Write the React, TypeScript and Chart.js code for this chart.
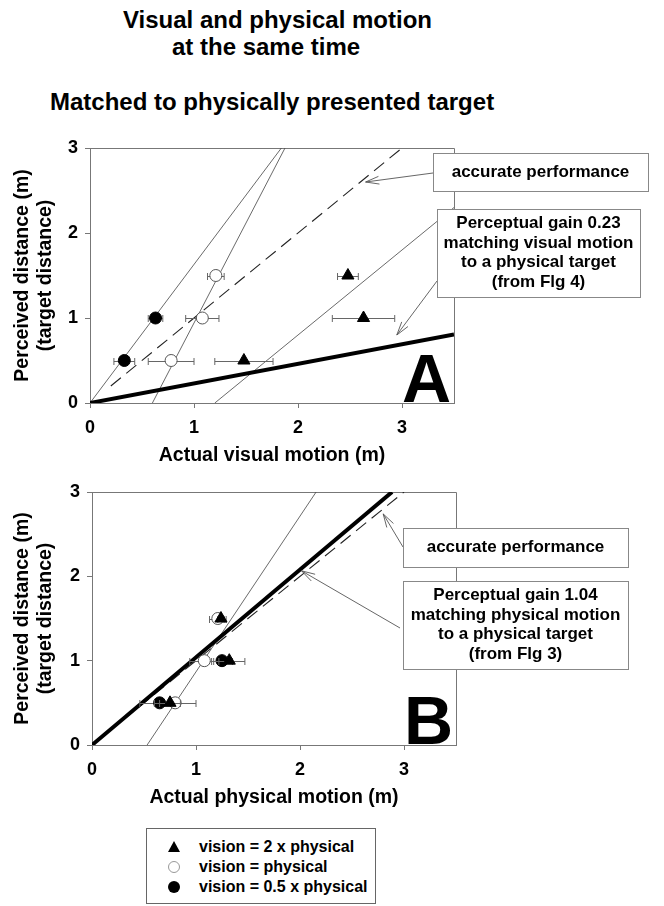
import React, { useEffect, useRef } from "react";
import { Chart, registerables } from "chart.js";
Chart.register(...registerables);

const FONT = "'Liberation Sans', Arial, Helvetica, sans-serif";

// ---------- shared axis ticks ----------
const X_TICK_VALUES = [0, 1, 2, 3];
const Y_TICK_VALUES = [0, 1, 2, 3];
const X_MAX = 3.5;
const Y_MAX = 3;

// ---------- Panel A : matched to visual motion ----------
const A_TRI_X = [1.48, 2.63, 2.48];
const A_TRI_Y = [0.5, 1.0, 1.5];
const A_TRI_ERR = [0.28, 0.3, 0.1];
const A_OPEN_X = [0.78, 1.08, 1.21];
const A_OPEN_Y = [0.5, 1.0, 1.5];
const A_OPEN_ERR = [0.22, 0.16, 0.08];
const A_FILL_X = [0.33, 0.63];
const A_FILL_Y = [0.5, 1.0];
const A_FILL_ERR = [0.1, 0.07];
const A_FIT_FILL_X = [0, 1.84];
const A_FIT_FILL_Y = [0, 3];
const A_FIT_OPEN_X = [0.6, 1.875];
const A_FIT_OPEN_Y = [0, 3];
const A_FIT_TRI_X = [1.2, 3.5];
const A_FIT_TRI_Y = [0, 2.3];
const A_ACC_X = [0.2, 3];
const A_ACC_Y = [0.2, 3];
const A_GAIN_X = [0, 3.5];
const A_GAIN_Y = [0, 0.805];

// ---------- Panel B : matched to physical motion ----------
const B_TRI_X = [0.75, 1.32, 1.24];
const B_TRI_Y = [0.5, 1.0, 1.5];
const B_TRI_ERR = [0.1, 0.15, 0.03];
const B_OPEN_X = [0.8, 1.08, 1.21];
const B_OPEN_Y = [0.5, 1.0, 1.5];
const B_OPEN_ERR = [0.2, 0.14, 0.08];
const B_FILL_X = [0.65, 1.25];
const B_FILL_Y = [0.5, 1.0];
const B_FILL_ERR = [0.19, 0.1];
const B_FIT_X = [0.53, 2.155];
const B_FIT_Y = [0, 3];
const B_ACC_X = [0, 3];
const B_ACC_Y = [0, 3];
const B_GAIN_X = [0, 2.885];
const B_GAIN_Y = [0, 3];

const TITLE_1 = "Visual and physical motion";
const TITLE_2 = "at the same time";
const TITLE_3 = "Matched to physically presented target";
const Y_TITLE = ["Perceived distance (m)", "(target distance)"];
const A_X_TITLE = "Actual visual motion (m)";
const B_X_TITLE = "Actual physical motion (m)";
const ACC_TEXT = ["accurate performance"];
const A_GAIN_TEXT = ["Perceptual gain 0.23", "matching visual motion", "to a physical target", "(from Flg 4)"];
const B_GAIN_TEXT = ["Perceptual gain 1.04", "matching physical motion", "to a physical target", "(from Flg 3)"];
const LEGEND_LABELS = ["vision = 2 x physical", "vision = physical", "vision = 0.5 x physical"];

const pts = (xs: number[], ys: number[]) => xs.map((x, i) => ({ x, y: ys[i] }));

type Box = { l: number; t: number; r: number; b: number; lines: string[] };
type Arrow = { fx: number; fy: number; tip: [number, number] };

type Spec = {
  top: number;
  h: number;
  yAxisW: number;
  padTop: number;
  padRight: number;
  xAxisH: number;
  xTitlePad: number;
  xTitle: string;
  letter: string;
  tri: [number[], number[], number[]];
  open: [number[], number[], number[]];
  fill: [number[], number[], number[]];
  fits: [number[], number[]][];
  acc: [number[], number[]];
  gain: [number[], number[]];
  boxes: Box[];
  arrows: Arrow[];
};

const SPEC_A: Spec = {
  top: 130,
  h: 340,
  yAxisW: 90,
  padTop: 18,
  padRight: 210,
  xAxisH: 67,
  xTitlePad: 3,
  xTitle: A_X_TITLE,
  letter: "A",
  tri: [A_TRI_X, A_TRI_Y, A_TRI_ERR],
  open: [A_OPEN_X, A_OPEN_Y, A_OPEN_ERR],
  fill: [A_FILL_X, A_FILL_Y, A_FILL_ERR],
  fits: [
    [A_FIT_FILL_X, A_FIT_FILL_Y],
    [A_FIT_OPEN_X, A_FIT_OPEN_Y],
    [A_FIT_TRI_X, A_FIT_TRI_Y],
  ],
  acc: [A_ACC_X, A_ACC_Y],
  gain: [A_GAIN_X, A_GAIN_Y],
  boxes: [
    { l: 433, t: 153, r: 648, b: 191, lines: ACC_TEXT },
    { l: 437, t: 209, r: 640, b: 297, lines: A_GAIN_TEXT },
  ],
  arrows: [
    { fx: 433, fy: 173, tip: [2.65, 2.6] },
    { fx: 437, fy: 281, tip: [2.95, 0.8] },
  ],
};

const SPEC_B: Spec = {
  top: 470,
  h: 350,
  yAxisW: 92,
  padTop: 22,
  padRight: 208,
  xAxisH: 75,
  xTitlePad: 11,
  xTitle: B_X_TITLE,
  letter: "B",
  tri: [B_TRI_X, B_TRI_Y, B_TRI_ERR],
  open: [B_OPEN_X, B_OPEN_Y, B_OPEN_ERR],
  fill: [B_FILL_X, B_FILL_Y, B_FILL_ERR],
  fits: [[B_FIT_X, B_FIT_Y]],
  acc: [B_ACC_X, B_ACC_Y],
  gain: [B_GAIN_X, B_GAIN_Y],
  boxes: [
    { l: 403, t: 528, r: 628, b: 567, lines: ACC_TEXT },
    { l: 403, t: 581, r: 628, b: 669, lines: B_GAIN_TEXT },
  ],
  arrows: [
    { fx: 403, fy: 547, tip: [2.8, 2.74] },
    { fx: 400, fy: 628, tip: [2.015, 2.065] },
  ],
};

const errorBarPlugin = {
  id: "errbars",
  beforeDatasetDraw(chart: any, args: any) {
    const ds = chart.data.datasets[args.index];
    if (!ds.errX) return;
    const { ctx } = chart;
    const xs = chart.scales.x;
    const ys = chart.scales.y;
    ctx.save();
    ctx.strokeStyle = "#666";
    ctx.lineWidth = 1;
    ds.data.forEach((p: any, i: number) => {
      const e = ds.errX[i];
      const py = Math.round(ys.getPixelForValue(p.y)) + 0.5;
      const x0 = xs.getPixelForValue(p.x - e);
      const x1 = xs.getPixelForValue(p.x + e);
      ctx.beginPath();
      ctx.moveTo(x0, py);
      ctx.lineTo(x1, py);
      ctx.moveTo(x0, py - 3.5);
      ctx.lineTo(x0, py + 3.5);
      ctx.moveTo(x1, py - 3.5);
      ctx.lineTo(x1, py + 3.5);
      ctx.stroke();
    });
    ctx.restore();
  },
};

function notesPlugin(spec: Spec) {
  return {
    id: "notes" + spec.letter,
    beforeDatasetsDraw(chart: any) {
      const { ctx, chartArea } = chart;
      ctx.save();
      ctx.strokeStyle = "#777";
      ctx.lineWidth = 1;
      ctx.beginPath();
      ctx.moveTo(chartArea.left, Math.round(chartArea.top) + 0.5);
      ctx.lineTo(Math.round(chartArea.right) + 0.5, Math.round(chartArea.top) + 0.5);
      ctx.lineTo(Math.round(chartArea.right) + 0.5, chartArea.bottom);
      ctx.stroke();
      ctx.restore();
    },
    afterDraw(chart: any) {
      const { ctx, chartArea } = chart;
      const xs = chart.scales.x;
      const ys = chart.scales.y;
      const off = spec.top;
      ctx.save();
      // big panel letter
      ctx.fillStyle = "#000";
      ctx.font = `bold 68px ${FONT}`;
      ctx.textAlign = "right";
      ctx.textBaseline = "alphabetic";
      ctx.fillText(spec.letter, chartArea.right - 3, chartArea.bottom - 1);
      // arrows
      ctx.strokeStyle = "#555";
      ctx.lineWidth = 0.9;
      spec.arrows.forEach((a) => {
        const tx = xs.getPixelForValue(a.tip[0]);
        const ty = ys.getPixelForValue(a.tip[1]);
        const fx = a.fx;
        const fy = a.fy - off;
        ctx.beginPath();
        ctx.moveTo(fx, fy);
        ctx.lineTo(tx, ty);
        const ang = Math.atan2(fy - ty, fx - tx);
        const L = 14;
        const s = 0.28;
        ctx.moveTo(tx + L * Math.cos(ang + s), ty + L * Math.sin(ang + s));
        ctx.lineTo(tx, ty);
        ctx.lineTo(tx + L * Math.cos(ang - s), ty + L * Math.sin(ang - s));
        ctx.stroke();
      });
      // boxes
      spec.boxes.forEach((b) => {
        const t = b.t - off;
        const bb = b.b - off;
        ctx.fillStyle = "#fff";
        ctx.fillRect(b.l, t, b.r - b.l, bb - t);
        ctx.strokeStyle = "#888";
        ctx.lineWidth = 1;
        ctx.strokeRect(Math.round(b.l) + 0.5, Math.round(t) + 0.5, Math.round(b.r - b.l), Math.round(bb - t));
        ctx.fillStyle = "#000";
        ctx.font = `bold 17px ${FONT}`;
        ctx.textAlign = "center";
        ctx.textBaseline = "middle";
        const lh = 19.5;
        const cx = (b.l + b.r) / 2;
        const cy = (t + bb) / 2;
        b.lines.forEach((ln, i) => {
          ctx.fillText(ln, cx, cy + (i - (b.lines.length - 1) / 2) * lh);
        });
      });
      ctx.restore();
    },
  };
}

function buildConfig(spec: Spec): any {
  const ptSet = (
    d: [number[], number[], number[]],
    style: string,
    radius: number,
    bg: string,
    border: string
  ) => ({
    type: "scatter",
    data: pts(d[0], d[1]),
    errX: d[2],
    pointStyle: style,
    pointRadius: radius,
    pointBackgroundColor: bg,
    pointBorderColor: border,
    pointBorderWidth: 1,
    showLine: false,
    order: 0,
  });
  const lineSet = (d: [number[], number[]], width: number, color: string, dash: number[]) => ({
    type: "scatter",
    data: pts(d[0], d[1]),
    showLine: true,
    borderColor: color,
    borderWidth: width,
    borderDash: dash,
    pointRadius: 0,
    fill: false,
    order: 1,
  });
  const datasets: any[] = [
    ptSet(spec.tri, "triangle", 7, "#000", "#000"),
    ptSet(spec.open, "circle", 6, "#fff", "#555"),
    ptSet(spec.fill, "circle", 6, "#000", "#000"),
    lineSet(spec.gain, 4, "#000", []),
    lineSet(spec.acc, 1.1, "#222", [13, 7]),
    ...spec.fits.map((f) => lineSet(f, 0.8, "#444", [])),
  ];
  const tickFont = { family: FONT, size: 18, weight: "bold" };
  const titleFont = { family: FONT, size: 19.5, weight: "bold", lineHeight: 1.2 };
  return {
    type: "scatter",
    data: { datasets },
    options: {
      responsive: false,
      animation: false,
      events: [],
      devicePixelRatio: 1,
      layout: { padding: { top: spec.padTop, right: spec.padRight, left: 0, bottom: 0 } },
      plugins: { legend: { display: false }, tooltip: { enabled: false } },
      scales: {
        x: {
          type: "linear",
          min: 0,
          max: X_MAX,
          afterBuildTicks: (s: any) => {
            s.ticks = X_TICK_VALUES.map((v) => ({ value: v }));
          },
          afterFit: (s: any) => {
            s.height = spec.xAxisH;
          },
          grid: { display: true, drawOnChartArea: false, drawTicks: true, tickLength: 5, color: "#777" },
          border: { display: true, color: "#777", width: 1 },
          ticks: { font: tickFont, color: "#000", padding: 9, maxRotation: 0 },
          title: {
            display: true,
            text: spec.xTitle,
            font: titleFont,
            color: "#000",
            padding: { top: 0, bottom: spec.xTitlePad },
          },
        },
        y: {
          type: "linear",
          min: 0,
          max: Y_MAX,
          afterBuildTicks: (s: any) => {
            s.ticks = Y_TICK_VALUES.map((v) => ({ value: v }));
          },
          afterFit: (s: any) => {
            s.width = spec.yAxisW;
          },
          grid: { display: true, drawOnChartArea: false, drawTicks: true, tickLength: 5, color: "#777" },
          border: { display: true, color: "#777", width: 1 },
          ticks: { font: tickFont, color: "#000", padding: 7 },
          title: {
            display: true,
            text: Y_TITLE,
            font: titleFont,
            color: "#000",
            padding: { top: 11, bottom: 0 },
          },
        },
      },
    },
    plugins: [errorBarPlugin, notesPlugin(spec)],
  };
}

function Panel({ spec }: { spec: Spec }) {
  const ref = useRef<HTMLCanvasElement>(null);
  useEffect(() => {
    const chart = new Chart(ref.current as HTMLCanvasElement, buildConfig(spec));
    return () => chart.destroy();
  }, []);
  return (
    <canvas
      ref={ref}
      width={664}
      height={spec.h}
      style={{ position: "absolute", left: 0, top: spec.top, width: 664, height: spec.h }}
    />
  );
}

const titleStyle: React.CSSProperties = {
  position: "absolute",
  fontFamily: FONT,
  fontWeight: "bold",
  fontSize: 24,
  lineHeight: "28px",
  whiteSpace: "nowrap",
  color: "#000",
};

function LegendMarker({ kind }: { kind: number }) {
  return (
    <svg width={16} height={16} style={{ position: "absolute", left: 19, top: 2 }}>
      {kind === 0 && <polygon points="8,2 14,13 2,13" fill="#000" />}
      {kind === 1 && <circle cx={8} cy={8} r={5.5} fill="#fff" stroke="#999" strokeWidth={1} />}
      {kind === 2 && <circle cx={8} cy={8} r={6} fill="#000" />}
    </svg>
  );
}

export default function App() {
  return (
    <div style={{ position: "absolute", left: 0, top: 0, width: 664, height: 906, background: "#fff", overflow: "hidden" }}>
      <div style={{ ...titleStyle, left: 123, top: 6 }}>{TITLE_1}</div>
      <div style={{ ...titleStyle, left: 172, top: 33 }}>{TITLE_2}</div>
      <div style={{ ...titleStyle, left: 50, top: 88 }}>{TITLE_3}</div>
      <Panel spec={SPEC_A} />
      <Panel spec={SPEC_B} />
      <div
        style={{
          position: "absolute",
          left: 146,
          top: 828,
          width: 228,
          height: 74,
          border: "1px solid #666",
          background: "#fff",
          fontFamily: FONT,
          fontWeight: "bold",
          fontSize: 16,
        }}
      >
        {LEGEND_LABELS.map((lab, i) => (
          <div key={lab} style={{ position: "absolute", left: 0, top: 8 + i * 20, height: 20, width: 228 }}>
            <LegendMarker kind={i} />
            <span style={{ position: "absolute", left: 52, top: 0, lineHeight: "20px" }}>{lab}</span>
          </div>
        ))}
      </div>
    </div>
  );
}
